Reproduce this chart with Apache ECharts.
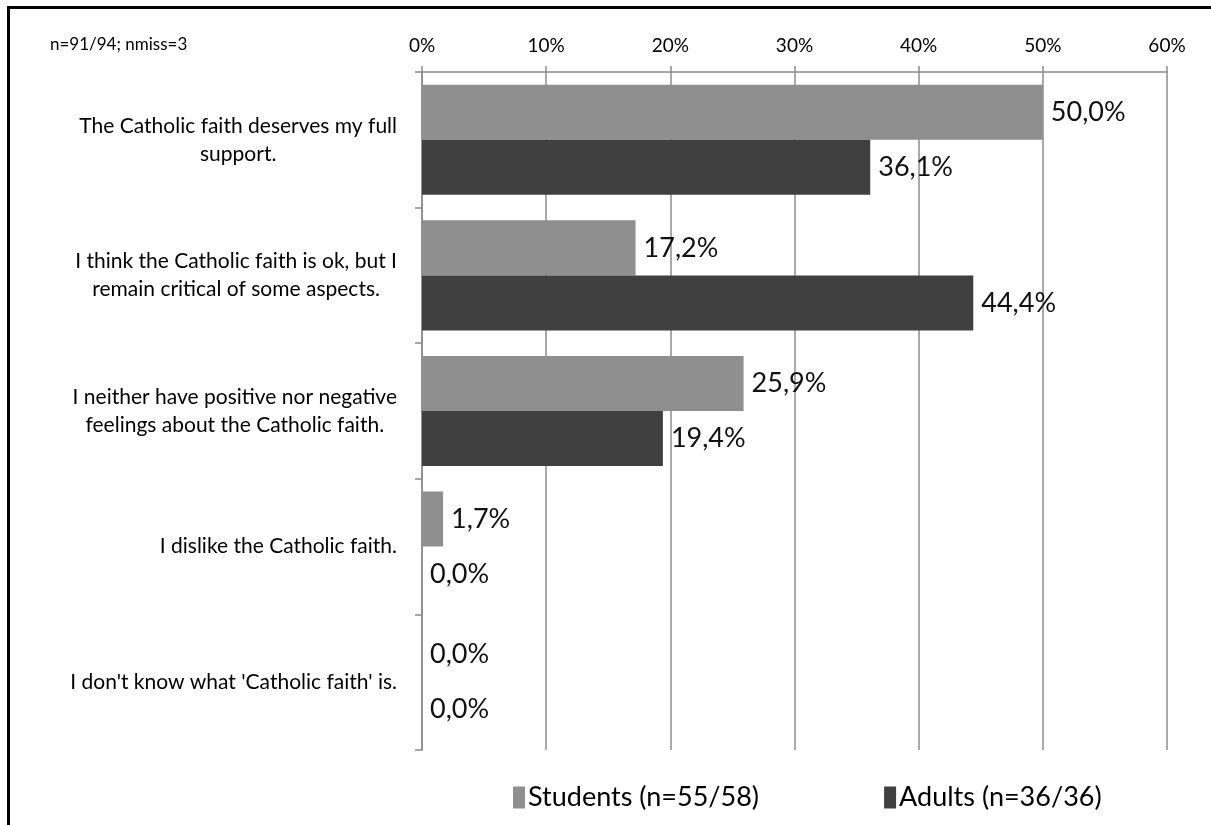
<!DOCTYPE html>
<html>
<head>
<meta charset="utf-8">
<script src="https://cdn.jsdelivr.net/npm/echarts@6/dist/echarts.min.js"></script>
<style>
html,body{margin:0;padding:0;background:#fff;}
#chart{width:1211px;height:825px;}
</style>
</head>
<body>
<div id="chart"></div>
<script>
const categories = [
  "The Catholic faith deserves my full\nsupport.",
  "I think the Catholic faith is ok, but I\nremain critical of some aspects.",
  "I neither have positive nor negative\nfeelings about the Catholic faith.",
  "I dislike the Catholic faith.",
  "I don't know what 'Catholic faith' is."
];
const studentsName = "Students (n=55/58)";
const adultsName = "Adults (n=36/36)";
const students = [50.0, 17.2, 25.9, 1.7, 0.0];
const adults = [36.1, 44.4, 19.4, 0.0, 0.0];
const xTicks = [0, 10, 20, 30, 40, 50, 60];
const note = "n=91/94; nmiss=3";

const FONT = "Lato, 'Open Sans', sans-serif";
const chart = echarts.init(document.getElementById('chart'), null, {renderer: 'canvas'});

const fmt = v => v.toFixed(1).replace('.', ',') + '%';

chart.setOption({
  animation: false,
  backgroundColor: '#ffffff',
  textStyle: {fontFamily: FONT},
  graphic: [
    {type: 'line', shape: {x1: 8.5, y1: 7, x2: 8.5, y2: 825}, style: {stroke: '#000', lineWidth: 3}},
    {type: 'line', shape: {x1: 7, y1: 7.5, x2: 1211, y2: 7.5}, style: {stroke: '#000', lineWidth: 3}},
    {type: 'text', left: 50, top: 36, style: {text: note, font: "17px " + FONT, fill: '#000'}}
  ],
  grid: {left: 422, right: 44, top: 72, bottom: 75, containLabel: false},
  legend: {
    left: 508, top: 779,
    itemWidth: 12, itemHeight: 22, itemGap: 125,
    icon: 'rect',
    textStyle: {fontSize: 27, color: '#000', fontFamily: FONT, padding: [0, 0, 0, -2]},
    data: [studentsName, adultsName]
  },
  xAxis: {
    type: 'value', position: 'top', min: xTicks[0], max: xTicks[xTicks.length - 1], interval: 10,
    axisLine: {show: true, lineStyle: {color: '#8c8c8c', width: 1.5}},
    axisTick: {show: true, length: 6, lineStyle: {color: '#8c8c8c', width: 1.5}},
    splitLine: {show: true, lineStyle: {color: '#8c8c8c', width: 1.5}},
    axisLabel: {formatter: '{value}%', fontSize: 19, color: '#000', margin: 17, fontFamily: FONT}
  },
  yAxis: {
    type: 'category', inverse: true, data: categories,
    axisLine: {show: true, lineStyle: {color: '#8c8c8c', width: 1.5}},
    axisTick: {show: true, length: 7, lineStyle: {color: '#8c8c8c', width: 1.5}},
    axisLabel: {
      margin: 25, align: 'right', fontSize: 21, lineHeight: 28, color: '#000', fontFamily: FONT,
      formatter: v => v.split('\n').map(l => '{c|' + l + '}').join('\n'),
      rich: {c: {align: 'center', fontSize: 21, lineHeight: 28, color: '#000', fontFamily: FONT}}
    }
  },
  series: [
    {
      name: studentsName, type: 'bar', data: students,
      barWidth: '40.6%', barGap: '0%',
      itemStyle: {color: '#8f8f8f'},
      label: {show: true, position: 'right', distance: 8, formatter: p => fmt(p.value), fontSize: 27, color: '#111', fontFamily: FONT}
    },
    {
      name: adultsName, type: 'bar', data: adults,
      barWidth: '40.6%', barGap: '0%',
      itemStyle: {color: '#404040'},
      label: {show: true, position: 'right', distance: 8, formatter: p => fmt(p.value), fontSize: 27, color: '#111', fontFamily: FONT}
    }
  ]
});
</script>
</body>
</html>
